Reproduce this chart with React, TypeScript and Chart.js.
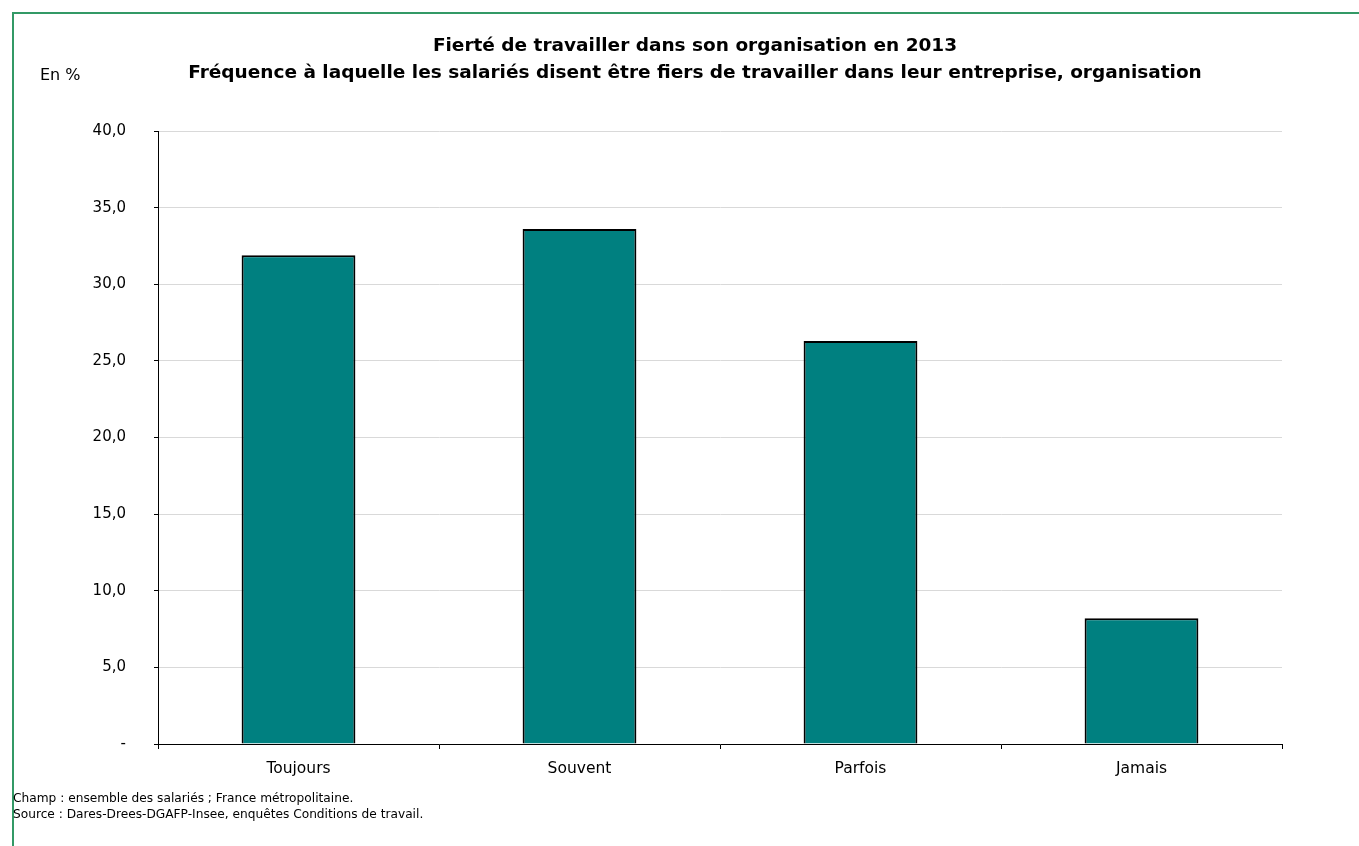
import React, { useEffect, useRef } from "react";
import { Chart, registerables } from "chart.js";

Chart.register(...registerables);

const categories = ["Toujours", "Souvent", "Parfois", "Jamais"];
const values = [31.9, 33.6, 26.3, 8.2];
const yTicks = [0, 5, 10, 15, 20, 25, 30, 35, 40];
const titleLines = [
  "Fierté de travailler dans son organisation en 2013",
  "Fréquence à laquelle les salariés disent être fiers de travailler dans leur entreprise, organisation",
];
const unitLabel = "En %";
const notes = [
  "Champ : ensemble des salariés ; France métropolitaine.",
  "Source : Dares-Drees-DGAFP-Insee, enquêtes Conditions de travail.",
];

const FONT = "'DejaVu Sans', Verdana, sans-serif";

export default function App() {
  const canvasRef = useRef<HTMLCanvasElement | null>(null);

  useEffect(() => {
    document.body.style.overflow = "hidden";
    const canvas = canvasRef.current;
    if (!canvas) return;
    const chart = new Chart(canvas, {
      type: "bar",
      data: {
        labels: categories,
        datasets: [
          {
            data: values,
            backgroundColor: "#008080",
            borderColor: "#000000",
            borderWidth: 2,
            categoryPercentage: 1,
            barPercentage: 0.405,
          },
        ],
      },
      options: {
        responsive: false,
        animation: false,
        events: [],
        layout: { padding: { left: 0, right: 77, top: 131, bottom: 0 } },
        plugins: {
          legend: { display: false },
          title: { display: false },
          tooltip: { enabled: false },
        },
        scales: {
          x: {
            grid: {
              display: true,
              drawOnChartArea: false,
              drawTicks: true,
              tickLength: 5,
              tickColor: "#000000",
              offset: true,
            },
            border: { display: true, color: "#000000", width: 1 },
            ticks: {
              color: "#000000",
              font: { family: FONT, size: 15.5 },
              padding: 11,
              maxRotation: 0,
            },
            afterFit: (scale: any) => {
              scale.height = 102;
            },
          },
          y: {
            min: 0,
            max: 40,
            afterBuildTicks: (scale: any) => {
              scale.ticks = yTicks.map((v) => ({ value: v }));
            },
            grid: {
              color: "#d9d9d9",
              lineWidth: 1,
              drawTicks: true,
              tickLength: 4,
              tickColor: "#000000",
            },
            border: { display: true, color: "#000000", width: 1 },
            ticks: {
              color: "#000000",
              font: { family: FONT, size: 15 },
              padding: 28,
              callback: (v: any) =>
                Number(v) === 0 ? "-" : Number(v).toFixed(1).replace(".", ","),
            },
            afterFit: (scale: any) => {
              scale.width = 158;
            },
          },
        },
      },
    });
    return () => chart.destroy();
  }, []);

  return (
    <div
      style={{
        position: "fixed",
        left: 0,
        top: 0,
        width: 1359,
        height: 846,
        overflow: "hidden",
        background: "#ffffff",
        fontFamily: FONT,
      }}
    >
      <canvas
        ref={canvasRef}
        width={1359}
        height={846}
        style={{ position: "absolute", left: 0, top: 0, display: "block" }}
      />
      <div
        style={{
          position: "absolute",
          left: 12,
          top: 12,
          width: 1347,
          height: 834,
          borderTop: "2px solid #339966",
          borderLeft: "2px solid #339966",
          boxSizing: "border-box",
          pointerEvents: "none",
        }}
      />
      <div
        style={{
          position: "absolute",
          left: 0,
          width: 1390,
          top: 31,
          textAlign: "center",
          fontWeight: "bold",
          fontSize: 18.5,
          lineHeight: "27px",
          color: "#000",
          whiteSpace: "nowrap",
        }}
      >
        {titleLines.map((t, i) => (
          <div key={i}>{t}</div>
        ))}
      </div>
      <div
        style={{
          position: "absolute",
          left: 40,
          top: 65,
          fontSize: 16,
          lineHeight: "20px",
          color: "#000",
        }}
      >
        {unitLabel}
      </div>
      <div
        style={{
          position: "absolute",
          left: 13,
          top: 790,
          fontSize: 12.2,
          lineHeight: "16px",
          color: "#000",
        }}
      >
        {notes.map((n, i) => (
          <div key={i}>{n}</div>
        ))}
      </div>
    </div>
  );
}
